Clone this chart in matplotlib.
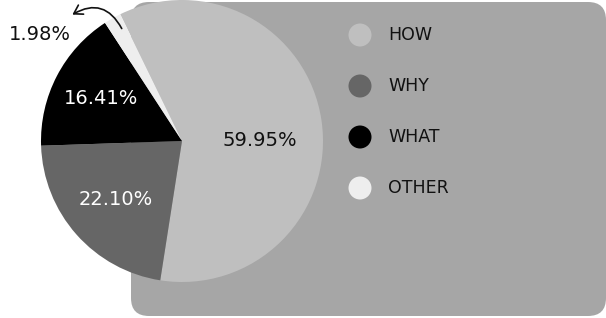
import numpy as np
import matplotlib
matplotlib.use('Agg')
import matplotlib.pyplot as plt
from matplotlib.patches import FancyBboxPatch, Circle, FancyArrowPatch

plt.rcParams['font.family'] = ['DejaVu Sans']

# data
names = ['HOW', 'WHY', 'WHAT', 'OTHER']
shares = [59.95, 22.10, 16.41, 1.98]
colors = ['#bfbfbf', '#666666', '#000000', '#eeeeee']
label_colors = ['#111111', '#ffffff', '#ffffff', '#111111']

W, H = 606, 318
fig = plt.figure(figsize=(W / 100, H / 100), dpi=100)
ax = fig.add_axes([0, 0, 1, 1])

# grey rounded panel behind
panel = FancyBboxPatch((131, 2), 475, 314, boxstyle='round,pad=0,rounding_size=18',
                       facecolor='#a6a6a6', edgecolor='none', zorder=0)
ax.add_patch(panel)

cx, cy, r = 182, 177, 141
wedges, _ = ax.pie(shares, colors=colors, startangle=116, counterclock=False,
                   radius=r, center=(cx, cy), wedgeprops=dict(linewidth=0))

# percentage labels
label_dist = [0.55, 0.63, 0.65, None]
for i, w in enumerate(wedges):
    if label_dist[i] is None:
        continue
    ang = np.deg2rad((w.theta1 + w.theta2) / 2)
    if i == 0:
        ang = 0.0
    x = cx + label_dist[i] * r * np.cos(ang)
    y = cy + label_dist[i] * r * np.sin(ang)
    ax.text(x, y, f'{shares[i]:.2f}%', color=label_colors[i], fontsize=14,
            ha='center', va='center')

# small slice: label outside with curved arrow
ax.text(40, 284, f'{shares[3]:.2f}%', color='#111111', fontsize=14,
        ha='center', va='center')
arr = FancyArrowPatch((123, 287), (70, 302), connectionstyle='arc3,rad=0.55',
                      arrowstyle='->,head_length=4,head_width=2.5',
                      color='#111111', lw=1.2, mutation_scale=1.5)
ax.add_patch(arr)

# legend
for i, name in enumerate(names):
    ly = H - (35 + 51 * i)
    ax.add_patch(Circle((360, ly), 11.5, facecolor=colors[i], edgecolor='none', zorder=3))
    ax.text(388, ly, name, fontsize=12.5, color='#111111', ha='left', va='center')

ax.set_xlim(0, W)
ax.set_ylim(0, H)
ax.set_aspect('auto')
ax.axis('off')

fig.savefig('out.png', dpi=100, facecolor='white')
